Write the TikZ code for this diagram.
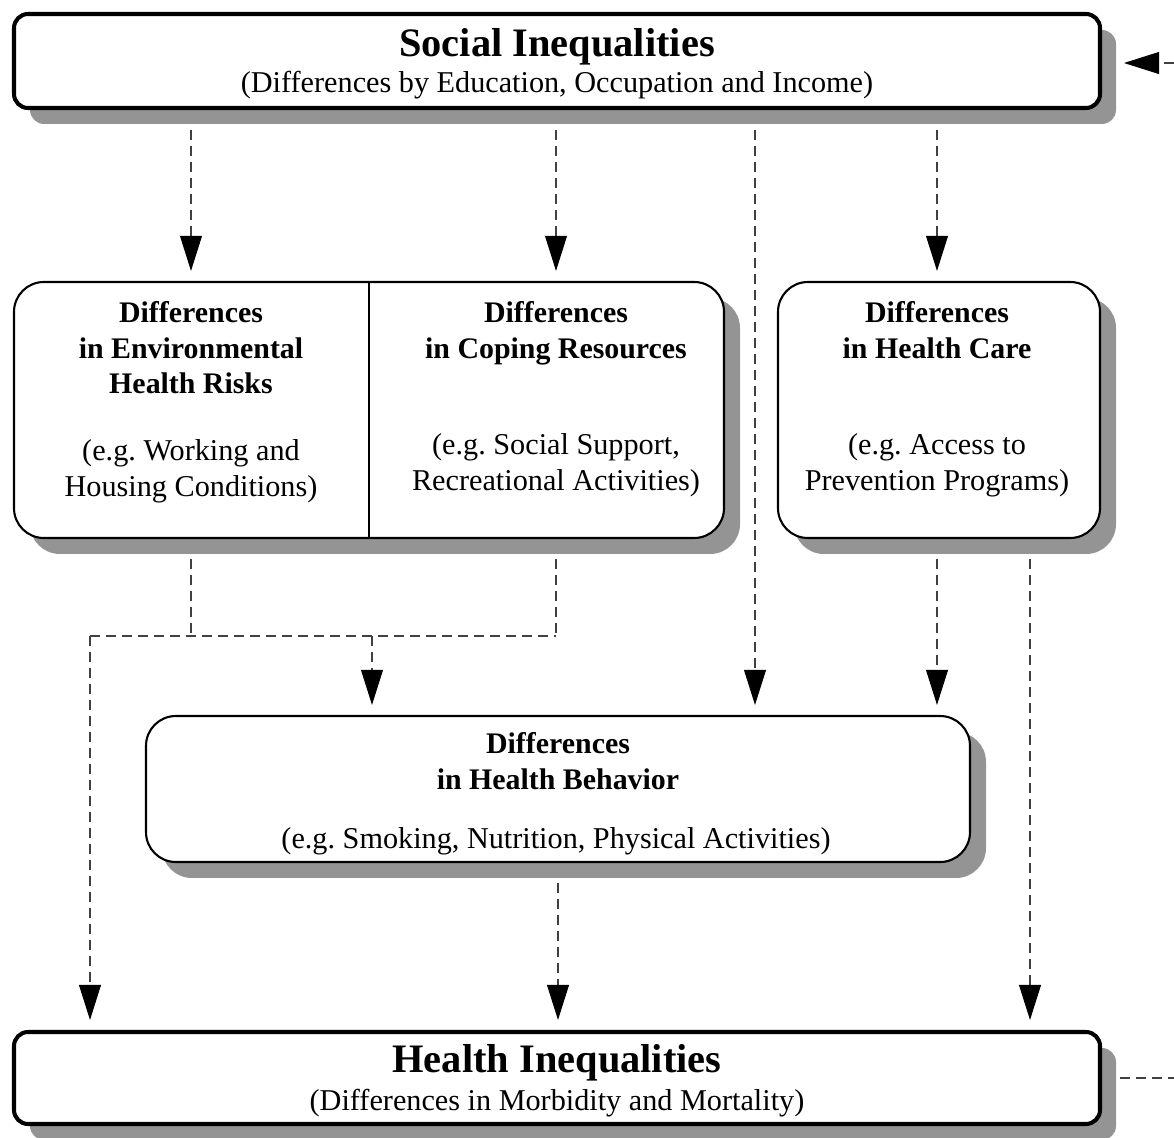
\documentclass[tikz,border=0pt]{standalone}
\usepackage{fontspec}
\setmainfont{Liberation Serif}
\usetikzlibrary{arrows.meta,shadows,calc}

\def\px{0.569pt}

\tikzset{
  panel/.style={draw, fill=white, inner sep=0pt, rounded corners=17pt, line width=1.2pt,
    drop shadow={shadow xshift=9.1pt, shadow yshift=-9.1pt, fill=black!42, opacity=1}},
  bigpanel/.style={panel, rounded corners=8pt, line width=2.3pt},
  head/.style={font=\fontsize{17}{20.2}\selectfont\bfseries, align=center, anchor=base, inner sep=0pt},
  example/.style={font=\fontsize{17.2}{20}\selectfont, align=center, anchor=base, inner sep=0pt},
  bighead/.style={font=\fontsize{23}{27}\selectfont\bfseries, anchor=base, inner sep=0pt},
  link/.style={draw=black!75, line width=0.6pt, dash pattern=on 5.7pt off 3.4pt},
  flow/.style={link, -{Triangle[length=20pt,width=12.5pt,black]},
    shorten <=11.4pt, shorten >=5.7pt},
}

\begin{document}
\begin{tikzpicture}[x=\px, y=-\px]
  \useasboundingbox (0,0) rectangle (1174,1138);

  % boxes
  \node[bigpanel, minimum width=1086*\px, minimum height=94*\px] (social) at (557,61) {};
  \node[panel, minimum width=710*\px, minimum height=256*\px] (combo) at (369,410) {};
  \node[panel, minimum width=322*\px, minimum height=256*\px] (care) at (939,410) {};
  \node[panel, minimum width=824*\px, minimum height=146*\px] (behav) at (558,789) {};
  \node[bigpanel, minimum width=1086*\px, minimum height=92*\px] (health) at (557,1078) {};
  \draw[line width=1.2pt] (combo.north) -- (combo.south);

  % texts (base = last line)
  \node[bighead] (socialtitle) at (557,57) {Social Inequalities};
  \node[example] (socialsub) at (557,93) {(Differences by Education, Occupation and Income)};

  \node[head] (envtitle) at (191,394) {Differences\\in Environmental\\Health Risks};
  \node[example] (envex) at (191,496) {(e.g.\ Working and\\Housing Conditions)};

  \node[head] (copetitle) at (556,358) {Differences\\in Coping Resources};
  \node[example] (copeex) at (556,490) {(e.g.\ Social Support,\\Recreational Activities)};

  \node[head] (caretitle) at (937,358) {Differences\\in Health Care};
  \node[example] (careex) at (937,490) {(e.g.\ Access to\\Prevention Programs)};

  \node[head] (behavtitle) at (558,789) {Differences\\in Health Behavior};
  \node[example] (behavex) at (556,848) {(e.g.\ Smoking, Nutrition, Physical Activities)};

  \node[bighead] (healthtitle) at (557,1072) {Health Inequalities};
  \node[example] (healthsub) at (557,1110) {(Differences in Morbidity and Mortality)};

  % helper points
  \coordinate (direct) at (755,0);
  \coordinate (careout) at (1030,0);
  \coordinate (merge) at (372,636);
  \coordinate (bend) at (90,636);
  \coordinate (loopin) at (1174,63);
  \coordinate (loopout) at (1174,1078);

  % connectors
  \draw[flow] (envtitle |- social.south) -- (envtitle |- combo.north);
  \draw[flow] (copetitle |- social.south) -- (copetitle |- combo.north);
  \draw[flow] (direct |- social.south) -- (direct |- behav.north);
  \draw[flow] (caretitle |- social.south) -- (caretitle |- care.north);

  \draw[link, shorten <=11.4pt] (envtitle |- combo.south) -- (envtitle |- merge);
  \draw[link, shorten <=11.4pt] (copetitle |- combo.south) -- (copetitle |- merge);
  \draw[link] (bend) -- (copetitle |- merge);
  \draw[flow, shorten <=0pt] (merge) -- (merge |- behav.north);
  \draw[flow, shorten <=0pt] (bend) -- (bend |- health.north);

  \draw[flow] (caretitle |- care.south) -- (caretitle |- behav.north);
  \draw[flow] (careout |- care.south) -- (careout |- health.north);
  \draw[flow] (behav.south) -- (behav.south |- health.north);

  \draw[flow, shorten <=0pt, shorten >=12.5pt] (loopin) -- (social.east |- loopin);
  \draw[link, shorten <=10.2pt] (health.east) -- (loopout);
\end{tikzpicture}
\end{document}
